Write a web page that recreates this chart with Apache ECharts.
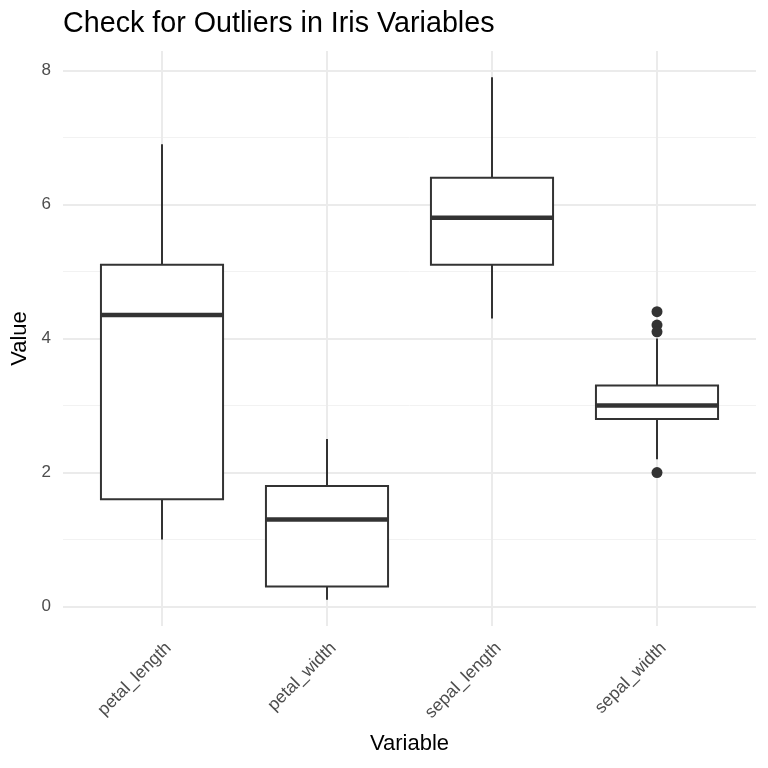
<!DOCTYPE html>
<html><head><meta charset="utf-8">
<script src="https://cdn.jsdelivr.net/npm/echarts@6/dist/echarts.min.js"></script>
<style>html,body{margin:0;padding:0;background:#fff}#c{width:768px;height:768px}</style>
</head><body><div id="c"></div>
<script>
const categories = ['petal_length', 'petal_width', 'sepal_length', 'sepal_width'];
const whiskerLow = [1.0, 0.1, 4.3, 2.2];
const q1 = [1.6, 0.3, 5.1, 2.8];
const median = [4.35, 1.3, 5.8, 3.0];
const q3 = [5.1, 1.8, 6.4, 3.3];
const whiskerHigh = [6.9, 2.5, 7.9, 4.0];
const outliers = [[3, 4.4], [3, 4.2], [3, 4.1], [3, 2.0]];
const yTicks = [0, 2, 4, 6, 8];
const yMinor = [1, 3, 5, 7];

const boxData = categories.map((c, i) => [i, whiskerLow[i], q1[i], median[i], q3[i], whiskerHigh[i]]);
const ink = '#333333';
const font = 'Liberation Sans';
const chart = echarts.init(document.getElementById('c'), null, {renderer: 'canvas'});
chart.setOption({
  animation: false,
  title: {text: 'Check for Outliers in Iris Variables', left: 58, top: 5,
    textStyle: {fontFamily: font, fontSize: 28.7, fontWeight: 'normal', color: '#000'}},
  grid: {left: 63, right: 12, top: 51, bottom: 142, containLabel: false, outerBoundsMode: 'none'},
  xAxis: {type: 'value', min: -0.6, max: 3.6, name: 'Variable', nameLocation: 'middle', nameGap: 107,
    nameTextStyle: {fontFamily: font, fontSize: 22, color: '#000'},
    axisLine: {show: false},
    axisTick: {show: false, customValues: [0, 1, 2, 3]},
    axisLabel: {customValues: [0, 1, 2, 3], rotate: 45, margin: 13, verticalAlign: 'top', color: '#4D4D4D',
      fontFamily: font, fontSize: 17.5,
      formatter: v => categories[Math.round(v)]},
    splitLine: {show: true, lineStyle: {color: '#EBEBEB', width: 2}}},
  yAxis: [{type: 'value', min: -0.29, max: 8.29, name: 'Value', nameLocation: 'middle', nameGap: 26,
    nameTextStyle: {fontFamily: font, fontSize: 22, color: '#000'},
    axisLine: {show: false},
    axisTick: {show: false, customValues: yTicks},
    axisLabel: {customValues: yTicks, color: '#4D4D4D', margin: 12, fontFamily: font, fontSize: 17},
    splitLine: {show: true, lineStyle: {color: '#EBEBEB', width: 2}}},
   {type: 'value', min: -0.29, max: 8.29, position: 'left',
    axisLine: {show: false}, axisLabel: {show: false},
    axisTick: {show: false, customValues: yMinor},
    splitLine: {show: true, lineStyle: {color: '#F2F2F2', width: 1}}}],
  series: [{
    type: 'custom', data: boxData, encode: {x: 0, y: [1, 2, 3, 4, 5]},
    renderItem: function (params, api) {
      const x = api.value(0);
      const half = api.size([0.74, 0])[0] / 2;
      const pLow = api.coord([x, api.value(1)]);
      const pQ1 = api.coord([x, api.value(2)]);
      const pMed = api.coord([x, api.value(3)]);
      const pQ3 = api.coord([x, api.value(4)]);
      const pHigh = api.coord([x, api.value(5)]);
      const st = {stroke: ink, lineWidth: 2, fill: null};
      return {type: 'group', children: [
        {type: 'line', shape: {x1: pLow[0], y1: pLow[1], x2: pQ1[0], y2: pQ1[1]}, style: st},
        {type: 'line', shape: {x1: pQ3[0], y1: pQ3[1], x2: pHigh[0], y2: pHigh[1]}, style: st},
        {type: 'rect', shape: {x: pQ3[0] - half, y: pQ3[1], width: half * 2, height: pQ1[1] - pQ3[1]},
          style: {stroke: ink, lineWidth: 2, fill: '#fff'}},
        {type: 'line', shape: {x1: pMed[0] - half, y1: pMed[1], x2: pMed[0] + half, y2: pMed[1]},
          style: {stroke: ink, lineWidth: 4.5}}
      ]};
    }
  }, {
    type: 'scatter', data: outliers, symbolSize: 11, itemStyle: {color: ink, opacity: 1}
  }]
});
</script></body></html>
